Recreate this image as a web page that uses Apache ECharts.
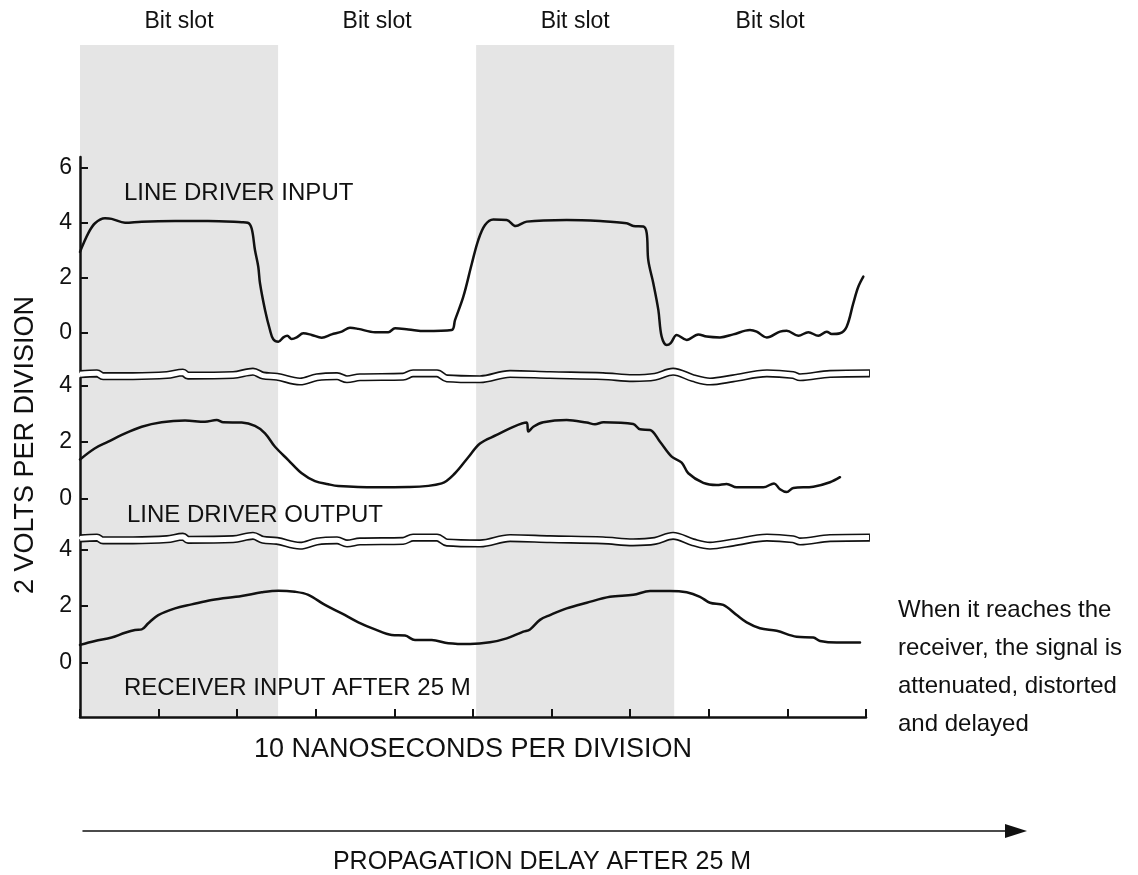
<!DOCTYPE html>
<html><head><meta charset="utf-8">
<script src="https://cdn.jsdelivr.net/npm/echarts@6/dist/echarts.min.js"></script>
<style>html,body{margin:0;padding:0;background:#fff}#c{width:1138px;height:875px}</style>
</head><body><div id="c"></div>
<script>
const FONT = '"Liberation Sans", Arial, Helvetica, sans-serif';
const INK = '#111';

// time in ns (10 ns per division), voltage in V (2 V per division)
const inputT = [0,1.06,1.91,3.18,4.03,5.73,7.85,12.09,16.28,20.57,21.34,21.84,22.26,22.68,22.9,23.54,24.17,24.59,25.23,25.87,26.37,26.93,27.57,28.41,29.48,30.75,32.02,33.3,34.35,35.41,37.53,39.22,40.08,41.77,43.89,47.29,47.71,48.77,49.83,50.67,51.53,52.58,54.29,55.43,56.83,61.92,66.16,69.55,70.4,71.67,72.1,72.3,72.94,73.58,74.0,74.64,75.15,75.92,77.19,78.66,79.73,81.42,83.12,85.24,86.09,87.37,89.06,89.91,91.39,92.66,93.93,95.0,95.64,96.69,97.54,98.38,99.02,99.66];
const inputV = [2.95,3.63,3.99,4.17,4.15,4.01,4.05,4.07,4.07,4.03,4.01,3.8,3.02,2.41,1.81,0.84,0.11,-0.23,-0.32,-0.16,-0.1,-0.22,-0.16,-0.01,-0.07,-0.17,-0.05,0.05,0.19,0.15,0.03,0.03,0.17,0.13,0.07,0.11,0.47,1.32,2.5,3.38,3.93,4.13,4.11,3.89,4.05,4.11,4.07,3.99,3.89,3.87,3.63,2.65,1.81,0.84,-0.13,-0.44,-0.37,-0.07,-0.25,-0.05,-0.13,-0.16,-0.05,0.11,0.05,-0.16,0.05,0.08,-0.1,0.03,-0.1,0.05,-0.04,-0.01,0.23,1.08,1.68,2.05];

const outputT = [0,1.91,3.6,5.31,7.85,10.39,13.36,15.9,17.39,18.23,20.57,22.26,23.54,24.81,26.5,28.21,29.9,31.59,32.86,37.53,41.77,46.02,47.71,49.4,50.89,53.01,55.13,56.83,57.04,57.67,58.94,61.92,64.47,65.52,66.58,70.39,71.25,72.52,73.79,75.28,76.55,77.39,79.3,81.0,82.27,83.55,86.93,88.3,89.06,89.91,90.75,93.3,95.42,96.69];
const outputV = [1.38,1.78,2.01,2.25,2.54,2.70,2.76,2.72,2.78,2.70,2.69,2.57,2.31,1.83,1.36,0.89,0.61,0.50,0.44,0.39,0.40,0.53,0.89,1.46,1.95,2.25,2.54,2.69,2.37,2.54,2.70,2.78,2.69,2.63,2.70,2.64,2.45,2.43,2.01,1.48,1.27,0.89,0.55,0.47,0.51,0.39,0.39,0.53,0.32,0.22,0.37,0.41,0.57,0.75];

const receiverT = [0,1.91,4.03,5.73,7.0,7.85,8.69,9.96,12.09,14.21,16.76,20.57,23.12,25.23,27.35,29.05,31.17,33.3,35.41,37.53,39.66,41.35,42.62,44.75,46.86,49.62,52.16,54.29,56.4,57.25,58.52,59.8,61.92,64.47,67.43,70.39,72.52,75.06,77.19,78.88,80.15,81.84,83.55,84.82,86.51,88.64,91.18,93.3,94.15,96.27,99.24];
const receiverV = [0.62,0.76,0.88,1.05,1.15,1.17,1.39,1.68,1.92,2.06,2.22,2.36,2.49,2.55,2.51,2.40,2.04,1.74,1.42,1.17,0.97,0.95,0.79,0.79,0.68,0.65,0.71,0.85,1.09,1.17,1.51,1.68,1.92,2.12,2.33,2.40,2.54,2.54,2.49,2.33,2.12,2.04,1.68,1.42,1.21,1.12,0.91,0.88,0.76,0.70,0.70];

// axis-break wave (in volts of the panel below it)
const breakT = [0,2.16,2.93,6.74,11.07,13.1,13.74,19.47,22.01,23.28,25.06,27.99,30.15,32.7,33.97,35.62,41.09,42.37,45.42,46.69,50.89,54.71,59.8,66.54,70.36,73.16,75.45,77.99,80.15,83.08,87.4,90.71,91.6,95.42,100.5];
const breakV = [4.41,4.44,4.34,4.34,4.38,4.47,4.36,4.38,4.50,4.36,4.32,4.15,4.30,4.34,4.23,4.30,4.32,4.44,4.44,4.26,4.23,4.42,4.38,4.34,4.27,4.32,4.50,4.27,4.15,4.26,4.44,4.38,4.30,4.42,4.44];

const bitSlotEdges = [0, 25.2, 50.4, 75.6, 100.8];
const bitSlotShaded = [true, false, true, false];
const bitSlotLabel = 'Bit slot';

const panelNames = ['LINE DRIVER INPUT', 'LINE DRIVER OUTPUT', 'RECEIVER INPUT AFTER 25 M'];
const yTickValues = [[0, 2, 4, 6], [0, 2, 4], [0, 2, 4]];
const yRanges = [[-1.418, 6.4], [-1.339, 4.274], [-1.947, 4.352]];
const xRange = [0, 100];
const xTickStep = 10;
const yAxisTitle = '2 VOLTS PER DIVISION';
const xAxisTitle = '10 NANOSECONDS PER DIVISION';
const arrowTitle = 'PROPAGATION DELAY AFTER 25 M';
const noteLines = ['When it reaches the', 'receiver, the signal is', 'attenuated, distorted', 'and delayed'];

const pairs = (t, v) => t.map((x, i) => [x, v[i]]);

const gridBoxes = [
  {left: 80, width: 786, top: 157, height: 215},
  {left: 80, width: 786, top: 378, height: 158},
  {left: 80, width: 786, top: 540, height: 177},
  {left: 80, width: 786, top: 45, height: 672},
  {left: 83, width: 933, top: 830, height: 1}
];

const yAxes = yRanges.map((r, i) => ({
  type: 'value', gridIndex: i, min: r[0], max: r[1], z: 3,
  axisLine: {show: true, onZero: false, lineStyle: {color: INK, width: 2.5}},
  axisTick: {show: true, inside: true, length: 8, customValues: yTickValues[i], lineStyle: {color: INK, width: 2}},
  axisLabel: {show: true, customValues: yTickValues[i], fontSize: 23, fontFamily: FONT, color: INK, margin: 8},
  splitLine: {show: false}
}));
yAxes.push({type: 'value', gridIndex: 3, min: 0, max: 1, show: false});
yAxes.push({type: 'value', gridIndex: 4, min: 0, max: 1, show: false});

const xAxes = [0, 1].map(i => ({type: 'value', gridIndex: i, min: xRange[0], max: xRange[1], show: false}));
xAxes.push({
  type: 'value', gridIndex: 2, min: xRange[0], max: xRange[1], interval: xTickStep, z: 3,
  axisLine: {show: true, onZero: false, lineStyle: {color: INK, width: 2.5}},
  axisTick: {show: true, inside: true, length: 8, lineStyle: {color: INK, width: 2}},
  axisLabel: {show: false}, splitLine: {show: false},
  name: xAxisTitle, nameLocation: 'middle', nameGap: 19,
  nameTextStyle: {fontSize: 27, fontFamily: FONT, color: INK}
});
xAxes.push({type: 'value', gridIndex: 3, min: xRange[0], max: xRange[1], show: false});
xAxes.push({
  type: 'value', gridIndex: 4, min: 0, max: 1,
  axisLine: {show: true, onZero: false, symbol: ['none', 'triangle'], symbolSize: [14, 22], lineStyle: {color: INK, width: 1.5}},
  axisTick: {show: false}, axisLabel: {show: false}, splitLine: {show: false}
});

const slotAreas = bitSlotShaded.map((shaded, i) => [
  {xAxis: bitSlotEdges[i], name: bitSlotLabel,
   itemStyle: {color: shaded ? '#e5e5e5' : 'rgba(255,255,255,0)'}},
  {xAxis: bitSlotEdges[i + 1]}
]);

const curveStyle = {color: INK, width: 2.5, join: 'round', cap: 'round'};
const curves = [[inputT, inputV], [outputT, outputV], [receiverT, receiverV]].map((d, i) => ({
  type: 'line', xAxisIndex: i, yAxisIndex: i, data: pairs(d[0], d[1]),
  showSymbol: false, symbol: 'none', smooth: 0.35,
  lineStyle: curveStyle, silent: true, z: 2
}));

const breaks = [];
[1, 2].forEach(i => {
  breaks.push({type: 'line', xAxisIndex: i, yAxisIndex: i, data: pairs(breakT, breakV), clip: false,
    showSymbol: false, symbol: 'none', smooth: 0.35, silent: true, z: 4,
    lineStyle: {color: INK, width: 8.2, join: 'round'}});
  breaks.push({type: 'line', xAxisIndex: i, yAxisIndex: i, data: pairs(breakT, breakV), clip: false,
    showSymbol: false, symbol: 'none', smooth: 0.35, silent: true, z: 5,
    lineStyle: {color: '#fff', width: 5, join: 'round'}});
});

const panelLabelPos = [[124, 193], [127, 515], [124, 688]];
const textStyle = (size) => ({font: `${size}px ${FONT}`, fill: INK});

const option = {
  animation: false,
  backgroundColor: '#fff',
  grid: gridBoxes,
  xAxis: xAxes,
  yAxis: yAxes,
  series: [
    {type: 'line', xAxisIndex: 3, yAxisIndex: 3, data: [], silent: true, z: 0,
     markArea: {silent: true, data: slotAreas,
       label: {show: true, position: 'top', distance: 12, color: INK, fontSize: 23, fontFamily: FONT}}},
    ...curves,
    ...breaks
  ],
  graphic: [
    ...panelNames.map((n, i) => ({type: 'text', x: panelLabelPos[i][0], y: panelLabelPos[i][1], silent: true, z: 100,
      style: Object.assign({text: n, align: 'left', verticalAlign: 'middle'}, textStyle(24))})),
    {type: 'text', x: 26, y: 445, rotation: Math.PI / 2, silent: true, z: 100,
     style: Object.assign({text: yAxisTitle, align: 'center', verticalAlign: 'middle'}, textStyle(27))},
    {type: 'text', x: 542, y: 862, silent: true, z: 100,
     style: Object.assign({text: arrowTitle, align: 'center', verticalAlign: 'middle'}, textStyle(25))},
    {type: 'text', x: 898, y: 667, silent: true, z: 100,
     style: Object.assign({text: noteLines.join('\n'), align: 'left', verticalAlign: 'middle', lineHeight: 38}, textStyle(24))}
  ]
};

const chart = echarts.init(document.getElementById('c'), null, {renderer: 'canvas'});
chart.setOption(option);
</script>
</body></html>
